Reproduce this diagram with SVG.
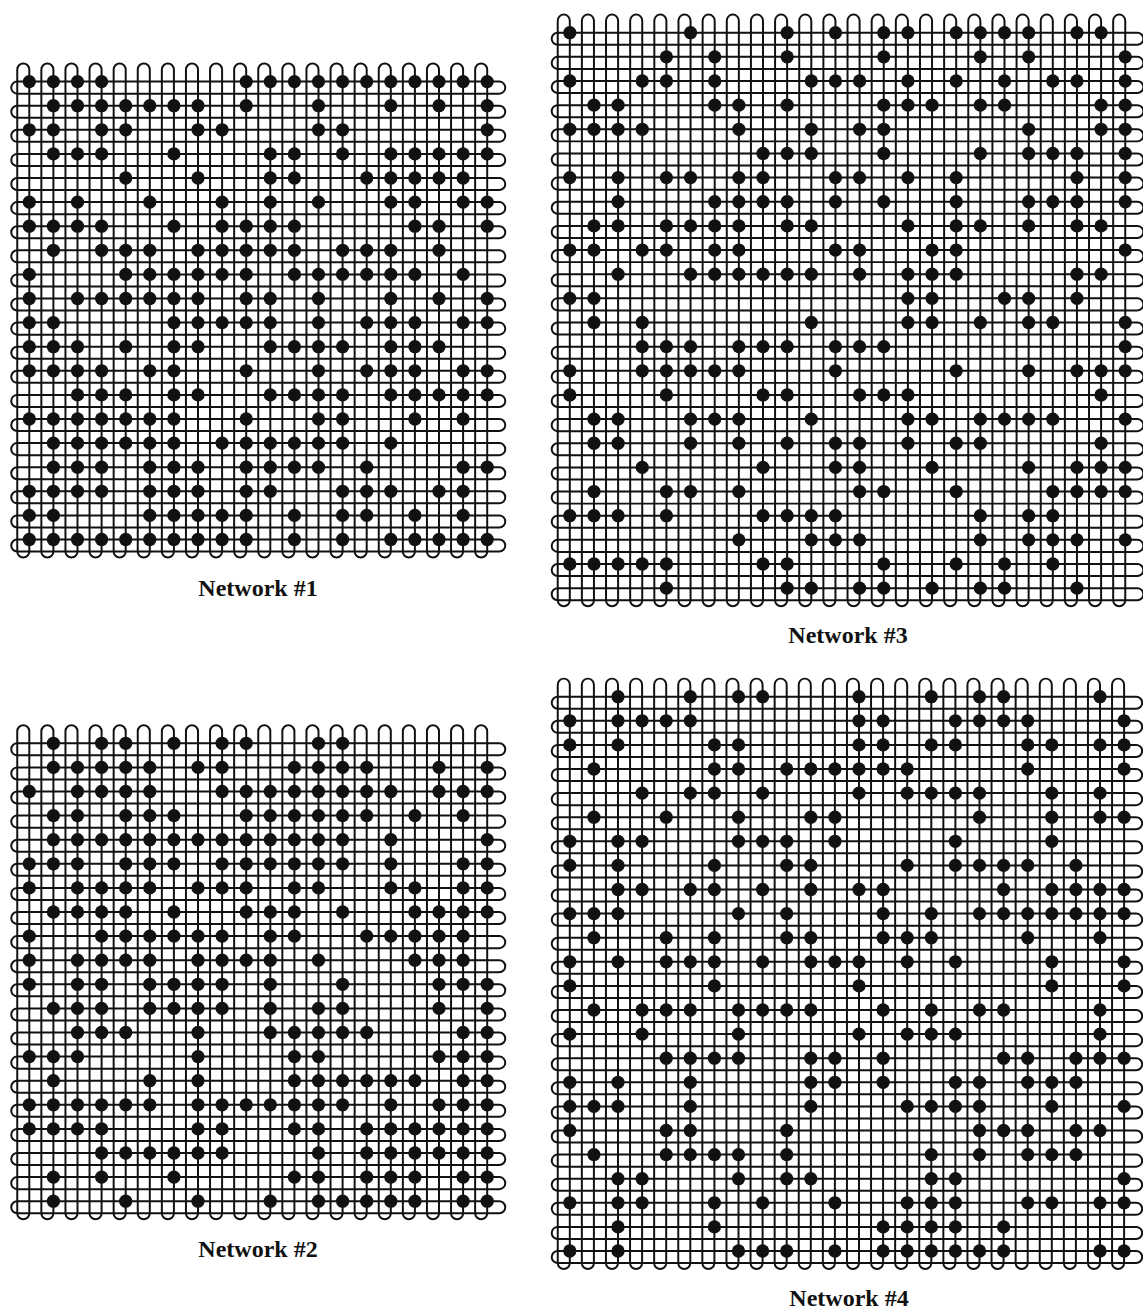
<svg xmlns="http://www.w3.org/2000/svg" width="1143" height="1311" viewBox="0 0 1143 1311">
<style>
.lbl{font-family:"Liberation Serif","Times New Roman",serif;font-weight:bold;font-size:24px;fill:#111;text-anchor:middle}
</style>
<defs>
<circle id="d" r="0.275" fill="#111"/>
<g id="v20" fill="none" stroke="#111" stroke-width="0.082"><rect x="-0.5" y="-0.75" width="0.5" height="20.5" rx="0.25"/><rect x="0.5" y="-0.75" width="0.5" height="20.5" rx="0.25"/><rect x="1.5" y="-0.75" width="0.5" height="20.5" rx="0.25"/><rect x="2.5" y="-0.75" width="0.5" height="20.5" rx="0.25"/><rect x="3.5" y="-0.75" width="0.5" height="20.5" rx="0.25"/><rect x="4.5" y="-0.75" width="0.5" height="20.5" rx="0.25"/><rect x="5.5" y="-0.75" width="0.5" height="20.5" rx="0.25"/><rect x="6.5" y="-0.75" width="0.5" height="20.5" rx="0.25"/><rect x="7.5" y="-0.75" width="0.5" height="20.5" rx="0.25"/><rect x="8.5" y="-0.75" width="0.5" height="20.5" rx="0.25"/><rect x="9.5" y="-0.75" width="0.5" height="20.5" rx="0.25"/><rect x="10.5" y="-0.75" width="0.5" height="20.5" rx="0.25"/><rect x="11.5" y="-0.75" width="0.5" height="20.5" rx="0.25"/><rect x="12.5" y="-0.75" width="0.5" height="20.5" rx="0.25"/><rect x="13.5" y="-0.75" width="0.5" height="20.5" rx="0.25"/><rect x="14.5" y="-0.75" width="0.5" height="20.5" rx="0.25"/><rect x="15.5" y="-0.75" width="0.5" height="20.5" rx="0.25"/><rect x="16.5" y="-0.75" width="0.5" height="20.5" rx="0.25"/><rect x="17.5" y="-0.75" width="0.5" height="20.5" rx="0.25"/><rect x="18.5" y="-0.75" width="0.5" height="20.5" rx="0.25"/>
<rect x="-0.75" y="0" width="20.5" height="0.5" rx="0.25"/><rect x="-0.75" y="1" width="20.5" height="0.5" rx="0.25"/><rect x="-0.75" y="2" width="20.5" height="0.5" rx="0.25"/><rect x="-0.75" y="3" width="20.5" height="0.5" rx="0.25"/><rect x="-0.75" y="4" width="20.5" height="0.5" rx="0.25"/><rect x="-0.75" y="5" width="20.5" height="0.5" rx="0.25"/><rect x="-0.75" y="6" width="20.5" height="0.5" rx="0.25"/><rect x="-0.75" y="7" width="20.5" height="0.5" rx="0.25"/><rect x="-0.75" y="8" width="20.5" height="0.5" rx="0.25"/><rect x="-0.75" y="9" width="20.5" height="0.5" rx="0.25"/><rect x="-0.75" y="10" width="20.5" height="0.5" rx="0.25"/><rect x="-0.75" y="11" width="20.5" height="0.5" rx="0.25"/><rect x="-0.75" y="12" width="20.5" height="0.5" rx="0.25"/><rect x="-0.75" y="13" width="20.5" height="0.5" rx="0.25"/><rect x="-0.75" y="14" width="20.5" height="0.5" rx="0.25"/><rect x="-0.75" y="15" width="20.5" height="0.5" rx="0.25"/><rect x="-0.75" y="16" width="20.5" height="0.5" rx="0.25"/><rect x="-0.75" y="17" width="20.5" height="0.5" rx="0.25"/><rect x="-0.75" y="18" width="20.5" height="0.5" rx="0.25"/><rect x="-0.75" y="19" width="20.5" height="0.5" rx="0.25"/></g>
<g id="v24" fill="none" stroke="#111" stroke-width="0.082"><rect x="-0.5" y="-0.75" width="0.5" height="24.5" rx="0.25"/><rect x="0.5" y="-0.75" width="0.5" height="24.5" rx="0.25"/><rect x="1.5" y="-0.75" width="0.5" height="24.5" rx="0.25"/><rect x="2.5" y="-0.75" width="0.5" height="24.5" rx="0.25"/><rect x="3.5" y="-0.75" width="0.5" height="24.5" rx="0.25"/><rect x="4.5" y="-0.75" width="0.5" height="24.5" rx="0.25"/><rect x="5.5" y="-0.75" width="0.5" height="24.5" rx="0.25"/><rect x="6.5" y="-0.75" width="0.5" height="24.5" rx="0.25"/><rect x="7.5" y="-0.75" width="0.5" height="24.5" rx="0.25"/><rect x="8.5" y="-0.75" width="0.5" height="24.5" rx="0.25"/><rect x="9.5" y="-0.75" width="0.5" height="24.5" rx="0.25"/><rect x="10.5" y="-0.75" width="0.5" height="24.5" rx="0.25"/><rect x="11.5" y="-0.75" width="0.5" height="24.5" rx="0.25"/><rect x="12.5" y="-0.75" width="0.5" height="24.5" rx="0.25"/><rect x="13.5" y="-0.75" width="0.5" height="24.5" rx="0.25"/><rect x="14.5" y="-0.75" width="0.5" height="24.5" rx="0.25"/><rect x="15.5" y="-0.75" width="0.5" height="24.5" rx="0.25"/><rect x="16.5" y="-0.75" width="0.5" height="24.5" rx="0.25"/><rect x="17.5" y="-0.75" width="0.5" height="24.5" rx="0.25"/><rect x="18.5" y="-0.75" width="0.5" height="24.5" rx="0.25"/><rect x="19.5" y="-0.75" width="0.5" height="24.5" rx="0.25"/><rect x="20.5" y="-0.75" width="0.5" height="24.5" rx="0.25"/><rect x="21.5" y="-0.75" width="0.5" height="24.5" rx="0.25"/><rect x="22.5" y="-0.75" width="0.5" height="24.5" rx="0.25"/>
<rect x="-0.75" y="0" width="24.5" height="0.5" rx="0.25"/><rect x="-0.75" y="1" width="24.5" height="0.5" rx="0.25"/><rect x="-0.75" y="2" width="24.5" height="0.5" rx="0.25"/><rect x="-0.75" y="3" width="24.5" height="0.5" rx="0.25"/><rect x="-0.75" y="4" width="24.5" height="0.5" rx="0.25"/><rect x="-0.75" y="5" width="24.5" height="0.5" rx="0.25"/><rect x="-0.75" y="6" width="24.5" height="0.5" rx="0.25"/><rect x="-0.75" y="7" width="24.5" height="0.5" rx="0.25"/><rect x="-0.75" y="8" width="24.5" height="0.5" rx="0.25"/><rect x="-0.75" y="9" width="24.5" height="0.5" rx="0.25"/><rect x="-0.75" y="10" width="24.5" height="0.5" rx="0.25"/><rect x="-0.75" y="11" width="24.5" height="0.5" rx="0.25"/><rect x="-0.75" y="12" width="24.5" height="0.5" rx="0.25"/><rect x="-0.75" y="13" width="24.5" height="0.5" rx="0.25"/><rect x="-0.75" y="14" width="24.5" height="0.5" rx="0.25"/><rect x="-0.75" y="15" width="24.5" height="0.5" rx="0.25"/><rect x="-0.75" y="16" width="24.5" height="0.5" rx="0.25"/><rect x="-0.75" y="17" width="24.5" height="0.5" rx="0.25"/><rect x="-0.75" y="18" width="24.5" height="0.5" rx="0.25"/><rect x="-0.75" y="19" width="24.5" height="0.5" rx="0.25"/><rect x="-0.75" y="20" width="24.5" height="0.5" rx="0.25"/><rect x="-0.75" y="21" width="24.5" height="0.5" rx="0.25"/><rect x="-0.75" y="22" width="24.5" height="0.5" rx="0.25"/><rect x="-0.75" y="23" width="24.5" height="0.5" rx="0.25"/></g>
</defs>

<g id="network1">
<g transform="translate(29.3 81.6) scale(24.1)">
<g id="n1-fibers"><use href="#v20"/></g>
<g id="n1-nodes">
<use href="#d" x="0" y="0"/><use href="#d" x="1" y="0"/><use href="#d" x="2" y="0"/><use href="#d" x="3" y="0"/><use href="#d" x="9" y="0"/><use href="#d" x="10" y="0"/><use href="#d" x="11" y="0"/><use href="#d" x="12" y="0"/><use href="#d" x="13" y="0"/><use href="#d" x="14" y="0"/><use href="#d" x="15" y="0"/><use href="#d" x="16" y="0"/><use href="#d" x="17" y="0"/><use href="#d" x="18" y="0"/><use href="#d" x="19" y="0"/>
<use href="#d" x="1" y="1"/><use href="#d" x="2" y="1"/><use href="#d" x="3" y="1"/><use href="#d" x="4" y="1"/><use href="#d" x="5" y="1"/><use href="#d" x="6" y="1"/><use href="#d" x="7" y="1"/><use href="#d" x="9" y="1"/><use href="#d" x="12" y="1"/><use href="#d" x="15" y="1"/><use href="#d" x="17" y="1"/><use href="#d" x="19" y="1"/>
<use href="#d" x="0" y="2"/><use href="#d" x="1" y="2"/><use href="#d" x="3" y="2"/><use href="#d" x="4" y="2"/><use href="#d" x="7" y="2"/><use href="#d" x="8" y="2"/><use href="#d" x="12" y="2"/><use href="#d" x="13" y="2"/><use href="#d" x="19" y="2"/>
<use href="#d" x="1" y="3"/><use href="#d" x="2" y="3"/><use href="#d" x="3" y="3"/><use href="#d" x="6" y="3"/><use href="#d" x="10" y="3"/><use href="#d" x="11" y="3"/><use href="#d" x="13" y="3"/><use href="#d" x="15" y="3"/><use href="#d" x="16" y="3"/><use href="#d" x="17" y="3"/><use href="#d" x="18" y="3"/><use href="#d" x="19" y="3"/>
<use href="#d" x="4" y="4"/><use href="#d" x="7" y="4"/><use href="#d" x="10" y="4"/><use href="#d" x="11" y="4"/><use href="#d" x="14" y="4"/><use href="#d" x="15" y="4"/><use href="#d" x="16" y="4"/><use href="#d" x="17" y="4"/><use href="#d" x="18" y="4"/>
<use href="#d" x="0" y="5"/><use href="#d" x="2" y="5"/><use href="#d" x="5" y="5"/><use href="#d" x="8" y="5"/><use href="#d" x="10" y="5"/><use href="#d" x="12" y="5"/><use href="#d" x="15" y="5"/><use href="#d" x="16" y="5"/><use href="#d" x="18" y="5"/><use href="#d" x="19" y="5"/>
<use href="#d" x="0" y="6"/><use href="#d" x="1" y="6"/><use href="#d" x="2" y="6"/><use href="#d" x="3" y="6"/><use href="#d" x="6" y="6"/><use href="#d" x="8" y="6"/><use href="#d" x="9" y="6"/><use href="#d" x="10" y="6"/><use href="#d" x="11" y="6"/><use href="#d" x="16" y="6"/><use href="#d" x="17" y="6"/><use href="#d" x="19" y="6"/>
<use href="#d" x="1" y="7"/><use href="#d" x="3" y="7"/><use href="#d" x="4" y="7"/><use href="#d" x="5" y="7"/><use href="#d" x="7" y="7"/><use href="#d" x="8" y="7"/><use href="#d" x="9" y="7"/><use href="#d" x="10" y="7"/><use href="#d" x="11" y="7"/><use href="#d" x="13" y="7"/><use href="#d" x="14" y="7"/><use href="#d" x="15" y="7"/><use href="#d" x="17" y="7"/>
<use href="#d" x="0" y="8"/><use href="#d" x="4" y="8"/><use href="#d" x="5" y="8"/><use href="#d" x="6" y="8"/><use href="#d" x="7" y="8"/><use href="#d" x="8" y="8"/><use href="#d" x="9" y="8"/><use href="#d" x="11" y="8"/><use href="#d" x="12" y="8"/><use href="#d" x="13" y="8"/><use href="#d" x="14" y="8"/><use href="#d" x="15" y="8"/><use href="#d" x="16" y="8"/><use href="#d" x="18" y="8"/>
<use href="#d" x="0" y="9"/><use href="#d" x="2" y="9"/><use href="#d" x="3" y="9"/><use href="#d" x="4" y="9"/><use href="#d" x="5" y="9"/><use href="#d" x="6" y="9"/><use href="#d" x="7" y="9"/><use href="#d" x="9" y="9"/><use href="#d" x="10" y="9"/><use href="#d" x="12" y="9"/><use href="#d" x="15" y="9"/><use href="#d" x="17" y="9"/><use href="#d" x="19" y="9"/>
<use href="#d" x="0" y="10"/><use href="#d" x="1" y="10"/><use href="#d" x="6" y="10"/><use href="#d" x="7" y="10"/><use href="#d" x="8" y="10"/><use href="#d" x="9" y="10"/><use href="#d" x="10" y="10"/><use href="#d" x="12" y="10"/><use href="#d" x="14" y="10"/><use href="#d" x="15" y="10"/><use href="#d" x="16" y="10"/><use href="#d" x="18" y="10"/><use href="#d" x="19" y="10"/>
<use href="#d" x="0" y="11"/><use href="#d" x="1" y="11"/><use href="#d" x="2" y="11"/><use href="#d" x="4" y="11"/><use href="#d" x="6" y="11"/><use href="#d" x="7" y="11"/><use href="#d" x="10" y="11"/><use href="#d" x="11" y="11"/><use href="#d" x="12" y="11"/><use href="#d" x="13" y="11"/><use href="#d" x="15" y="11"/><use href="#d" x="16" y="11"/><use href="#d" x="17" y="11"/>
<use href="#d" x="0" y="12"/><use href="#d" x="1" y="12"/><use href="#d" x="2" y="12"/><use href="#d" x="3" y="12"/><use href="#d" x="5" y="12"/><use href="#d" x="6" y="12"/><use href="#d" x="9" y="12"/><use href="#d" x="12" y="12"/><use href="#d" x="14" y="12"/><use href="#d" x="15" y="12"/><use href="#d" x="16" y="12"/><use href="#d" x="18" y="12"/><use href="#d" x="19" y="12"/>
<use href="#d" x="2" y="13"/><use href="#d" x="3" y="13"/><use href="#d" x="4" y="13"/><use href="#d" x="6" y="13"/><use href="#d" x="7" y="13"/><use href="#d" x="10" y="13"/><use href="#d" x="11" y="13"/><use href="#d" x="12" y="13"/><use href="#d" x="13" y="13"/><use href="#d" x="15" y="13"/><use href="#d" x="16" y="13"/><use href="#d" x="17" y="13"/><use href="#d" x="18" y="13"/><use href="#d" x="19" y="13"/>
<use href="#d" x="0" y="14"/><use href="#d" x="1" y="14"/><use href="#d" x="2" y="14"/><use href="#d" x="3" y="14"/><use href="#d" x="4" y="14"/><use href="#d" x="5" y="14"/><use href="#d" x="6" y="14"/><use href="#d" x="9" y="14"/><use href="#d" x="12" y="14"/><use href="#d" x="13" y="14"/><use href="#d" x="16" y="14"/><use href="#d" x="18" y="14"/>
<use href="#d" x="1" y="15"/><use href="#d" x="2" y="15"/><use href="#d" x="3" y="15"/><use href="#d" x="4" y="15"/><use href="#d" x="5" y="15"/><use href="#d" x="6" y="15"/><use href="#d" x="8" y="15"/><use href="#d" x="9" y="15"/><use href="#d" x="10" y="15"/><use href="#d" x="11" y="15"/><use href="#d" x="12" y="15"/><use href="#d" x="13" y="15"/><use href="#d" x="15" y="15"/>
<use href="#d" x="1" y="16"/><use href="#d" x="2" y="16"/><use href="#d" x="3" y="16"/><use href="#d" x="5" y="16"/><use href="#d" x="6" y="16"/><use href="#d" x="7" y="16"/><use href="#d" x="9" y="16"/><use href="#d" x="10" y="16"/><use href="#d" x="11" y="16"/><use href="#d" x="12" y="16"/><use href="#d" x="14" y="16"/><use href="#d" x="18" y="16"/><use href="#d" x="19" y="16"/>
<use href="#d" x="0" y="17"/><use href="#d" x="1" y="17"/><use href="#d" x="2" y="17"/><use href="#d" x="3" y="17"/><use href="#d" x="5" y="17"/><use href="#d" x="6" y="17"/><use href="#d" x="7" y="17"/><use href="#d" x="9" y="17"/><use href="#d" x="10" y="17"/><use href="#d" x="13" y="17"/><use href="#d" x="14" y="17"/><use href="#d" x="15" y="17"/><use href="#d" x="17" y="17"/><use href="#d" x="18" y="17"/>
<use href="#d" x="0" y="18"/><use href="#d" x="1" y="18"/><use href="#d" x="5" y="18"/><use href="#d" x="6" y="18"/><use href="#d" x="7" y="18"/><use href="#d" x="8" y="18"/><use href="#d" x="9" y="18"/><use href="#d" x="11" y="18"/><use href="#d" x="13" y="18"/><use href="#d" x="14" y="18"/><use href="#d" x="16" y="18"/><use href="#d" x="18" y="18"/>
<use href="#d" x="0" y="19"/><use href="#d" x="1" y="19"/><use href="#d" x="2" y="19"/><use href="#d" x="3" y="19"/><use href="#d" x="4" y="19"/><use href="#d" x="5" y="19"/><use href="#d" x="6" y="19"/><use href="#d" x="7" y="19"/><use href="#d" x="8" y="19"/><use href="#d" x="9" y="19"/><use href="#d" x="11" y="19"/><use href="#d" x="13" y="19"/><use href="#d" x="15" y="19"/><use href="#d" x="16" y="19"/><use href="#d" x="17" y="19"/><use href="#d" x="18" y="19"/><use href="#d" x="19" y="19"/>
</g>
</g>
<text class="lbl" x="258" y="596">Network #1</text>
</g>

<g id="network2">
<g transform="translate(29.3 743.3) scale(24.1)">
<g id="n2-fibers"><use href="#v20"/></g>
<g id="n2-nodes">
<use href="#d" x="1" y="0"/><use href="#d" x="3" y="0"/><use href="#d" x="4" y="0"/><use href="#d" x="6" y="0"/><use href="#d" x="8" y="0"/><use href="#d" x="9" y="0"/><use href="#d" x="12" y="0"/><use href="#d" x="13" y="0"/>
<use href="#d" x="1" y="1"/><use href="#d" x="2" y="1"/><use href="#d" x="3" y="1"/><use href="#d" x="4" y="1"/><use href="#d" x="5" y="1"/><use href="#d" x="7" y="1"/><use href="#d" x="8" y="1"/><use href="#d" x="11" y="1"/><use href="#d" x="12" y="1"/><use href="#d" x="13" y="1"/><use href="#d" x="14" y="1"/><use href="#d" x="17" y="1"/><use href="#d" x="19" y="1"/>
<use href="#d" x="0" y="2"/><use href="#d" x="2" y="2"/><use href="#d" x="3" y="2"/><use href="#d" x="4" y="2"/><use href="#d" x="5" y="2"/><use href="#d" x="8" y="2"/><use href="#d" x="9" y="2"/><use href="#d" x="10" y="2"/><use href="#d" x="11" y="2"/><use href="#d" x="12" y="2"/><use href="#d" x="13" y="2"/><use href="#d" x="14" y="2"/><use href="#d" x="15" y="2"/><use href="#d" x="17" y="2"/><use href="#d" x="18" y="2"/><use href="#d" x="19" y="2"/>
<use href="#d" x="1" y="3"/><use href="#d" x="2" y="3"/><use href="#d" x="4" y="3"/><use href="#d" x="5" y="3"/><use href="#d" x="6" y="3"/><use href="#d" x="9" y="3"/><use href="#d" x="10" y="3"/><use href="#d" x="11" y="3"/><use href="#d" x="12" y="3"/><use href="#d" x="13" y="3"/><use href="#d" x="14" y="3"/><use href="#d" x="16" y="3"/><use href="#d" x="18" y="3"/>
<use href="#d" x="1" y="4"/><use href="#d" x="2" y="4"/><use href="#d" x="3" y="4"/><use href="#d" x="4" y="4"/><use href="#d" x="5" y="4"/><use href="#d" x="6" y="4"/><use href="#d" x="7" y="4"/><use href="#d" x="8" y="4"/><use href="#d" x="9" y="4"/><use href="#d" x="10" y="4"/><use href="#d" x="11" y="4"/><use href="#d" x="12" y="4"/><use href="#d" x="13" y="4"/><use href="#d" x="15" y="4"/><use href="#d" x="19" y="4"/>
<use href="#d" x="0" y="5"/><use href="#d" x="1" y="5"/><use href="#d" x="2" y="5"/><use href="#d" x="4" y="5"/><use href="#d" x="5" y="5"/><use href="#d" x="6" y="5"/><use href="#d" x="8" y="5"/><use href="#d" x="9" y="5"/><use href="#d" x="10" y="5"/><use href="#d" x="11" y="5"/><use href="#d" x="12" y="5"/><use href="#d" x="13" y="5"/><use href="#d" x="15" y="5"/><use href="#d" x="18" y="5"/><use href="#d" x="19" y="5"/>
<use href="#d" x="0" y="6"/><use href="#d" x="2" y="6"/><use href="#d" x="3" y="6"/><use href="#d" x="4" y="6"/><use href="#d" x="5" y="6"/><use href="#d" x="7" y="6"/><use href="#d" x="8" y="6"/><use href="#d" x="9" y="6"/><use href="#d" x="11" y="6"/><use href="#d" x="12" y="6"/><use href="#d" x="15" y="6"/><use href="#d" x="16" y="6"/><use href="#d" x="18" y="6"/><use href="#d" x="19" y="6"/>
<use href="#d" x="1" y="7"/><use href="#d" x="2" y="7"/><use href="#d" x="3" y="7"/><use href="#d" x="4" y="7"/><use href="#d" x="6" y="7"/><use href="#d" x="9" y="7"/><use href="#d" x="10" y="7"/><use href="#d" x="11" y="7"/><use href="#d" x="13" y="7"/><use href="#d" x="16" y="7"/><use href="#d" x="17" y="7"/><use href="#d" x="18" y="7"/><use href="#d" x="19" y="7"/>
<use href="#d" x="0" y="8"/><use href="#d" x="3" y="8"/><use href="#d" x="4" y="8"/><use href="#d" x="5" y="8"/><use href="#d" x="6" y="8"/><use href="#d" x="7" y="8"/><use href="#d" x="8" y="8"/><use href="#d" x="10" y="8"/><use href="#d" x="11" y="8"/><use href="#d" x="14" y="8"/><use href="#d" x="15" y="8"/><use href="#d" x="16" y="8"/><use href="#d" x="17" y="8"/><use href="#d" x="18" y="8"/>
<use href="#d" x="0" y="9"/><use href="#d" x="2" y="9"/><use href="#d" x="3" y="9"/><use href="#d" x="4" y="9"/><use href="#d" x="5" y="9"/><use href="#d" x="7" y="9"/><use href="#d" x="8" y="9"/><use href="#d" x="9" y="9"/><use href="#d" x="10" y="9"/><use href="#d" x="12" y="9"/><use href="#d" x="16" y="9"/><use href="#d" x="17" y="9"/><use href="#d" x="18" y="9"/>
<use href="#d" x="0" y="10"/><use href="#d" x="2" y="10"/><use href="#d" x="3" y="10"/><use href="#d" x="5" y="10"/><use href="#d" x="6" y="10"/><use href="#d" x="7" y="10"/><use href="#d" x="8" y="10"/><use href="#d" x="10" y="10"/><use href="#d" x="13" y="10"/><use href="#d" x="17" y="10"/><use href="#d" x="18" y="10"/><use href="#d" x="19" y="10"/>
<use href="#d" x="1" y="11"/><use href="#d" x="2" y="11"/><use href="#d" x="3" y="11"/><use href="#d" x="5" y="11"/><use href="#d" x="6" y="11"/><use href="#d" x="7" y="11"/><use href="#d" x="8" y="11"/><use href="#d" x="10" y="11"/><use href="#d" x="12" y="11"/><use href="#d" x="13" y="11"/><use href="#d" x="17" y="11"/><use href="#d" x="19" y="11"/>
<use href="#d" x="2" y="12"/><use href="#d" x="3" y="12"/><use href="#d" x="4" y="12"/><use href="#d" x="7" y="12"/><use href="#d" x="10" y="12"/><use href="#d" x="11" y="12"/><use href="#d" x="12" y="12"/><use href="#d" x="13" y="12"/><use href="#d" x="14" y="12"/><use href="#d" x="18" y="12"/><use href="#d" x="19" y="12"/>
<use href="#d" x="0" y="13"/><use href="#d" x="1" y="13"/><use href="#d" x="2" y="13"/><use href="#d" x="7" y="13"/><use href="#d" x="11" y="13"/><use href="#d" x="12" y="13"/><use href="#d" x="17" y="13"/><use href="#d" x="18" y="13"/><use href="#d" x="19" y="13"/>
<use href="#d" x="1" y="14"/><use href="#d" x="5" y="14"/><use href="#d" x="7" y="14"/><use href="#d" x="11" y="14"/><use href="#d" x="12" y="14"/><use href="#d" x="13" y="14"/><use href="#d" x="14" y="14"/><use href="#d" x="15" y="14"/><use href="#d" x="16" y="14"/><use href="#d" x="18" y="14"/><use href="#d" x="19" y="14"/>
<use href="#d" x="0" y="15"/><use href="#d" x="1" y="15"/><use href="#d" x="2" y="15"/><use href="#d" x="3" y="15"/><use href="#d" x="4" y="15"/><use href="#d" x="5" y="15"/><use href="#d" x="7" y="15"/><use href="#d" x="8" y="15"/><use href="#d" x="9" y="15"/><use href="#d" x="10" y="15"/><use href="#d" x="11" y="15"/><use href="#d" x="12" y="15"/><use href="#d" x="13" y="15"/><use href="#d" x="15" y="15"/><use href="#d" x="17" y="15"/><use href="#d" x="18" y="15"/><use href="#d" x="19" y="15"/>
<use href="#d" x="0" y="16"/><use href="#d" x="1" y="16"/><use href="#d" x="2" y="16"/><use href="#d" x="3" y="16"/><use href="#d" x="7" y="16"/><use href="#d" x="8" y="16"/><use href="#d" x="11" y="16"/><use href="#d" x="12" y="16"/><use href="#d" x="14" y="16"/><use href="#d" x="15" y="16"/><use href="#d" x="16" y="16"/><use href="#d" x="17" y="16"/><use href="#d" x="18" y="16"/><use href="#d" x="19" y="16"/>
<use href="#d" x="3" y="17"/><use href="#d" x="4" y="17"/><use href="#d" x="5" y="17"/><use href="#d" x="6" y="17"/><use href="#d" x="7" y="17"/><use href="#d" x="8" y="17"/><use href="#d" x="12" y="17"/><use href="#d" x="14" y="17"/><use href="#d" x="15" y="17"/><use href="#d" x="16" y="17"/><use href="#d" x="17" y="17"/><use href="#d" x="18" y="17"/><use href="#d" x="19" y="17"/>
<use href="#d" x="1" y="18"/><use href="#d" x="3" y="18"/><use href="#d" x="6" y="18"/><use href="#d" x="11" y="18"/><use href="#d" x="12" y="18"/><use href="#d" x="14" y="18"/><use href="#d" x="15" y="18"/><use href="#d" x="16" y="18"/><use href="#d" x="18" y="18"/><use href="#d" x="19" y="18"/>
<use href="#d" x="1" y="19"/><use href="#d" x="4" y="19"/><use href="#d" x="7" y="19"/><use href="#d" x="10" y="19"/><use href="#d" x="12" y="19"/><use href="#d" x="13" y="19"/><use href="#d" x="14" y="19"/><use href="#d" x="15" y="19"/><use href="#d" x="16" y="19"/><use href="#d" x="18" y="19"/><use href="#d" x="19" y="19"/>
</g>
</g>
<text class="lbl" x="258" y="1257">Network #2</text>
</g>

<g id="network3">
<g transform="translate(569.8 32.7) scale(24.15)">
<g id="n3-fibers"><use href="#v24"/></g>
<g id="n3-nodes">
<use href="#d" x="0" y="0"/><use href="#d" x="5" y="0"/><use href="#d" x="9" y="0"/><use href="#d" x="11" y="0"/><use href="#d" x="13" y="0"/><use href="#d" x="14" y="0"/><use href="#d" x="16" y="0"/><use href="#d" x="17" y="0"/><use href="#d" x="18" y="0"/><use href="#d" x="19" y="0"/><use href="#d" x="21" y="0"/><use href="#d" x="22" y="0"/>
<use href="#d" x="4" y="1"/><use href="#d" x="6" y="1"/><use href="#d" x="9" y="1"/><use href="#d" x="13" y="1"/><use href="#d" x="17" y="1"/><use href="#d" x="19" y="1"/><use href="#d" x="23" y="1"/>
<use href="#d" x="0" y="2"/><use href="#d" x="3" y="2"/><use href="#d" x="4" y="2"/><use href="#d" x="6" y="2"/><use href="#d" x="10" y="2"/><use href="#d" x="11" y="2"/><use href="#d" x="12" y="2"/><use href="#d" x="14" y="2"/><use href="#d" x="16" y="2"/><use href="#d" x="18" y="2"/><use href="#d" x="20" y="2"/><use href="#d" x="21" y="2"/><use href="#d" x="23" y="2"/>
<use href="#d" x="1" y="3"/><use href="#d" x="2" y="3"/><use href="#d" x="6" y="3"/><use href="#d" x="7" y="3"/><use href="#d" x="9" y="3"/><use href="#d" x="13" y="3"/><use href="#d" x="14" y="3"/><use href="#d" x="15" y="3"/><use href="#d" x="17" y="3"/><use href="#d" x="18" y="3"/><use href="#d" x="22" y="3"/><use href="#d" x="23" y="3"/>
<use href="#d" x="0" y="4"/><use href="#d" x="1" y="4"/><use href="#d" x="2" y="4"/><use href="#d" x="3" y="4"/><use href="#d" x="7" y="4"/><use href="#d" x="10" y="4"/><use href="#d" x="12" y="4"/><use href="#d" x="13" y="4"/><use href="#d" x="19" y="4"/><use href="#d" x="22" y="4"/><use href="#d" x="23" y="4"/>
<use href="#d" x="8" y="5"/><use href="#d" x="9" y="5"/><use href="#d" x="10" y="5"/><use href="#d" x="13" y="5"/><use href="#d" x="17" y="5"/><use href="#d" x="19" y="5"/><use href="#d" x="20" y="5"/><use href="#d" x="21" y="5"/><use href="#d" x="23" y="5"/>
<use href="#d" x="0" y="6"/><use href="#d" x="2" y="6"/><use href="#d" x="4" y="6"/><use href="#d" x="5" y="6"/><use href="#d" x="7" y="6"/><use href="#d" x="8" y="6"/><use href="#d" x="11" y="6"/><use href="#d" x="12" y="6"/><use href="#d" x="14" y="6"/><use href="#d" x="16" y="6"/><use href="#d" x="21" y="6"/><use href="#d" x="23" y="6"/>
<use href="#d" x="2" y="7"/><use href="#d" x="6" y="7"/><use href="#d" x="7" y="7"/><use href="#d" x="8" y="7"/><use href="#d" x="9" y="7"/><use href="#d" x="11" y="7"/><use href="#d" x="13" y="7"/><use href="#d" x="16" y="7"/><use href="#d" x="19" y="7"/><use href="#d" x="20" y="7"/><use href="#d" x="21" y="7"/><use href="#d" x="23" y="7"/>
<use href="#d" x="1" y="8"/><use href="#d" x="2" y="8"/><use href="#d" x="4" y="8"/><use href="#d" x="5" y="8"/><use href="#d" x="6" y="8"/><use href="#d" x="7" y="8"/><use href="#d" x="9" y="8"/><use href="#d" x="10" y="8"/><use href="#d" x="14" y="8"/><use href="#d" x="16" y="8"/><use href="#d" x="17" y="8"/><use href="#d" x="19" y="8"/><use href="#d" x="21" y="8"/><use href="#d" x="22" y="8"/>
<use href="#d" x="0" y="9"/><use href="#d" x="1" y="9"/><use href="#d" x="3" y="9"/><use href="#d" x="4" y="9"/><use href="#d" x="6" y="9"/><use href="#d" x="7" y="9"/><use href="#d" x="11" y="9"/><use href="#d" x="12" y="9"/><use href="#d" x="15" y="9"/><use href="#d" x="16" y="9"/><use href="#d" x="23" y="9"/>
<use href="#d" x="2" y="10"/><use href="#d" x="5" y="10"/><use href="#d" x="6" y="10"/><use href="#d" x="7" y="10"/><use href="#d" x="8" y="10"/><use href="#d" x="9" y="10"/><use href="#d" x="10" y="10"/><use href="#d" x="12" y="10"/><use href="#d" x="14" y="10"/><use href="#d" x="15" y="10"/><use href="#d" x="16" y="10"/><use href="#d" x="21" y="10"/><use href="#d" x="22" y="10"/>
<use href="#d" x="0" y="11"/><use href="#d" x="1" y="11"/><use href="#d" x="14" y="11"/><use href="#d" x="15" y="11"/><use href="#d" x="18" y="11"/><use href="#d" x="19" y="11"/><use href="#d" x="21" y="11"/>
<use href="#d" x="1" y="12"/><use href="#d" x="3" y="12"/><use href="#d" x="10" y="12"/><use href="#d" x="14" y="12"/><use href="#d" x="15" y="12"/><use href="#d" x="17" y="12"/><use href="#d" x="19" y="12"/><use href="#d" x="20" y="12"/><use href="#d" x="23" y="12"/>
<use href="#d" x="3" y="13"/><use href="#d" x="4" y="13"/><use href="#d" x="5" y="13"/><use href="#d" x="7" y="13"/><use href="#d" x="8" y="13"/><use href="#d" x="9" y="13"/><use href="#d" x="11" y="13"/><use href="#d" x="12" y="13"/><use href="#d" x="13" y="13"/><use href="#d" x="23" y="13"/>
<use href="#d" x="0" y="14"/><use href="#d" x="3" y="14"/><use href="#d" x="4" y="14"/><use href="#d" x="5" y="14"/><use href="#d" x="6" y="14"/><use href="#d" x="7" y="14"/><use href="#d" x="11" y="14"/><use href="#d" x="16" y="14"/><use href="#d" x="19" y="14"/><use href="#d" x="21" y="14"/><use href="#d" x="22" y="14"/><use href="#d" x="23" y="14"/>
<use href="#d" x="0" y="15"/><use href="#d" x="4" y="15"/><use href="#d" x="8" y="15"/><use href="#d" x="9" y="15"/><use href="#d" x="12" y="15"/><use href="#d" x="13" y="15"/><use href="#d" x="14" y="15"/><use href="#d" x="22" y="15"/>
<use href="#d" x="1" y="16"/><use href="#d" x="2" y="16"/><use href="#d" x="5" y="16"/><use href="#d" x="6" y="16"/><use href="#d" x="7" y="16"/><use href="#d" x="10" y="16"/><use href="#d" x="14" y="16"/><use href="#d" x="15" y="16"/><use href="#d" x="17" y="16"/><use href="#d" x="18" y="16"/><use href="#d" x="19" y="16"/><use href="#d" x="20" y="16"/><use href="#d" x="23" y="16"/>
<use href="#d" x="1" y="17"/><use href="#d" x="2" y="17"/><use href="#d" x="5" y="17"/><use href="#d" x="7" y="17"/><use href="#d" x="9" y="17"/><use href="#d" x="11" y="17"/><use href="#d" x="12" y="17"/><use href="#d" x="14" y="17"/><use href="#d" x="16" y="17"/><use href="#d" x="17" y="17"/><use href="#d" x="22" y="17"/>
<use href="#d" x="3" y="18"/><use href="#d" x="8" y="18"/><use href="#d" x="11" y="18"/><use href="#d" x="12" y="18"/><use href="#d" x="15" y="18"/><use href="#d" x="19" y="18"/><use href="#d" x="21" y="18"/><use href="#d" x="22" y="18"/><use href="#d" x="23" y="18"/>
<use href="#d" x="1" y="19"/><use href="#d" x="4" y="19"/><use href="#d" x="5" y="19"/><use href="#d" x="7" y="19"/><use href="#d" x="12" y="19"/><use href="#d" x="13" y="19"/><use href="#d" x="16" y="19"/><use href="#d" x="20" y="19"/><use href="#d" x="21" y="19"/><use href="#d" x="22" y="19"/><use href="#d" x="23" y="19"/>
<use href="#d" x="0" y="20"/><use href="#d" x="1" y="20"/><use href="#d" x="2" y="20"/><use href="#d" x="4" y="20"/><use href="#d" x="8" y="20"/><use href="#d" x="9" y="20"/><use href="#d" x="10" y="20"/><use href="#d" x="11" y="20"/><use href="#d" x="17" y="20"/><use href="#d" x="19" y="20"/><use href="#d" x="20" y="20"/>
<use href="#d" x="7" y="21"/><use href="#d" x="10" y="21"/><use href="#d" x="11" y="21"/><use href="#d" x="12" y="21"/><use href="#d" x="17" y="21"/><use href="#d" x="19" y="21"/><use href="#d" x="20" y="21"/><use href="#d" x="21" y="21"/><use href="#d" x="23" y="21"/>
<use href="#d" x="0" y="22"/><use href="#d" x="1" y="22"/><use href="#d" x="2" y="22"/><use href="#d" x="3" y="22"/><use href="#d" x="4" y="22"/><use href="#d" x="8" y="22"/><use href="#d" x="9" y="22"/><use href="#d" x="13" y="22"/><use href="#d" x="16" y="22"/><use href="#d" x="18" y="22"/><use href="#d" x="20" y="22"/>
<use href="#d" x="4" y="23"/><use href="#d" x="9" y="23"/><use href="#d" x="10" y="23"/><use href="#d" x="12" y="23"/><use href="#d" x="13" y="23"/><use href="#d" x="15" y="23"/><use href="#d" x="17" y="23"/><use href="#d" x="18" y="23"/><use href="#d" x="21" y="23"/>
</g>
</g>
<text class="lbl" x="848" y="643">Network #3</text>
</g>

<g id="network4">
<g transform="translate(569.8 696.7) scale(24.1)">
<g id="n4-fibers"><use href="#v24"/></g>
<g id="n4-nodes">
<use href="#d" x="2" y="0"/><use href="#d" x="5" y="0"/><use href="#d" x="7" y="0"/><use href="#d" x="8" y="0"/><use href="#d" x="12" y="0"/><use href="#d" x="15" y="0"/><use href="#d" x="17" y="0"/><use href="#d" x="18" y="0"/><use href="#d" x="22" y="0"/>
<use href="#d" x="0" y="1"/><use href="#d" x="2" y="1"/><use href="#d" x="3" y="1"/><use href="#d" x="4" y="1"/><use href="#d" x="5" y="1"/><use href="#d" x="12" y="1"/><use href="#d" x="13" y="1"/><use href="#d" x="16" y="1"/><use href="#d" x="17" y="1"/><use href="#d" x="18" y="1"/><use href="#d" x="19" y="1"/><use href="#d" x="23" y="1"/>
<use href="#d" x="0" y="2"/><use href="#d" x="2" y="2"/><use href="#d" x="6" y="2"/><use href="#d" x="7" y="2"/><use href="#d" x="12" y="2"/><use href="#d" x="13" y="2"/><use href="#d" x="15" y="2"/><use href="#d" x="16" y="2"/><use href="#d" x="19" y="2"/><use href="#d" x="20" y="2"/><use href="#d" x="22" y="2"/><use href="#d" x="23" y="2"/>
<use href="#d" x="1" y="3"/><use href="#d" x="6" y="3"/><use href="#d" x="7" y="3"/><use href="#d" x="9" y="3"/><use href="#d" x="10" y="3"/><use href="#d" x="11" y="3"/><use href="#d" x="12" y="3"/><use href="#d" x="13" y="3"/><use href="#d" x="14" y="3"/><use href="#d" x="19" y="3"/><use href="#d" x="23" y="3"/>
<use href="#d" x="3" y="4"/><use href="#d" x="5" y="4"/><use href="#d" x="6" y="4"/><use href="#d" x="8" y="4"/><use href="#d" x="12" y="4"/><use href="#d" x="14" y="4"/><use href="#d" x="15" y="4"/><use href="#d" x="16" y="4"/><use href="#d" x="17" y="4"/><use href="#d" x="20" y="4"/><use href="#d" x="22" y="4"/>
<use href="#d" x="1" y="5"/><use href="#d" x="4" y="5"/><use href="#d" x="7" y="5"/><use href="#d" x="10" y="5"/><use href="#d" x="11" y="5"/><use href="#d" x="17" y="5"/><use href="#d" x="20" y="5"/><use href="#d" x="22" y="5"/><use href="#d" x="23" y="5"/>
<use href="#d" x="0" y="6"/><use href="#d" x="2" y="6"/><use href="#d" x="3" y="6"/><use href="#d" x="7" y="6"/><use href="#d" x="8" y="6"/><use href="#d" x="9" y="6"/><use href="#d" x="11" y="6"/><use href="#d" x="16" y="6"/><use href="#d" x="20" y="6"/>
<use href="#d" x="0" y="7"/><use href="#d" x="2" y="7"/><use href="#d" x="6" y="7"/><use href="#d" x="9" y="7"/><use href="#d" x="10" y="7"/><use href="#d" x="14" y="7"/><use href="#d" x="16" y="7"/><use href="#d" x="17" y="7"/><use href="#d" x="18" y="7"/><use href="#d" x="19" y="7"/><use href="#d" x="21" y="7"/>
<use href="#d" x="2" y="8"/><use href="#d" x="3" y="8"/><use href="#d" x="5" y="8"/><use href="#d" x="6" y="8"/><use href="#d" x="8" y="8"/><use href="#d" x="10" y="8"/><use href="#d" x="12" y="8"/><use href="#d" x="13" y="8"/><use href="#d" x="18" y="8"/><use href="#d" x="20" y="8"/><use href="#d" x="21" y="8"/><use href="#d" x="22" y="8"/><use href="#d" x="23" y="8"/>
<use href="#d" x="0" y="9"/><use href="#d" x="1" y="9"/><use href="#d" x="2" y="9"/><use href="#d" x="7" y="9"/><use href="#d" x="9" y="9"/><use href="#d" x="13" y="9"/><use href="#d" x="15" y="9"/><use href="#d" x="17" y="9"/><use href="#d" x="18" y="9"/><use href="#d" x="19" y="9"/><use href="#d" x="20" y="9"/><use href="#d" x="21" y="9"/><use href="#d" x="22" y="9"/><use href="#d" x="23" y="9"/>
<use href="#d" x="1" y="10"/><use href="#d" x="4" y="10"/><use href="#d" x="6" y="10"/><use href="#d" x="9" y="10"/><use href="#d" x="10" y="10"/><use href="#d" x="13" y="10"/><use href="#d" x="14" y="10"/><use href="#d" x="15" y="10"/><use href="#d" x="19" y="10"/><use href="#d" x="22" y="10"/>
<use href="#d" x="0" y="11"/><use href="#d" x="2" y="11"/><use href="#d" x="4" y="11"/><use href="#d" x="5" y="11"/><use href="#d" x="6" y="11"/><use href="#d" x="8" y="11"/><use href="#d" x="10" y="11"/><use href="#d" x="11" y="11"/><use href="#d" x="12" y="11"/><use href="#d" x="14" y="11"/><use href="#d" x="16" y="11"/><use href="#d" x="20" y="11"/><use href="#d" x="23" y="11"/>
<use href="#d" x="0" y="12"/><use href="#d" x="6" y="12"/><use href="#d" x="12" y="12"/><use href="#d" x="20" y="12"/><use href="#d" x="23" y="12"/>
<use href="#d" x="1" y="13"/><use href="#d" x="3" y="13"/><use href="#d" x="4" y="13"/><use href="#d" x="5" y="13"/><use href="#d" x="7" y="13"/><use href="#d" x="8" y="13"/><use href="#d" x="9" y="13"/><use href="#d" x="10" y="13"/><use href="#d" x="13" y="13"/><use href="#d" x="15" y="13"/><use href="#d" x="17" y="13"/><use href="#d" x="18" y="13"/><use href="#d" x="22" y="13"/>
<use href="#d" x="0" y="14"/><use href="#d" x="3" y="14"/><use href="#d" x="7" y="14"/><use href="#d" x="12" y="14"/><use href="#d" x="14" y="14"/><use href="#d" x="15" y="14"/><use href="#d" x="16" y="14"/><use href="#d" x="22" y="14"/>
<use href="#d" x="4" y="15"/><use href="#d" x="5" y="15"/><use href="#d" x="6" y="15"/><use href="#d" x="7" y="15"/><use href="#d" x="10" y="15"/><use href="#d" x="11" y="15"/><use href="#d" x="13" y="15"/><use href="#d" x="18" y="15"/><use href="#d" x="19" y="15"/><use href="#d" x="21" y="15"/><use href="#d" x="22" y="15"/><use href="#d" x="23" y="15"/>
<use href="#d" x="0" y="16"/><use href="#d" x="2" y="16"/><use href="#d" x="5" y="16"/><use href="#d" x="10" y="16"/><use href="#d" x="11" y="16"/><use href="#d" x="13" y="16"/><use href="#d" x="16" y="16"/><use href="#d" x="17" y="16"/><use href="#d" x="19" y="16"/><use href="#d" x="20" y="16"/><use href="#d" x="21" y="16"/>
<use href="#d" x="0" y="17"/><use href="#d" x="1" y="17"/><use href="#d" x="2" y="17"/><use href="#d" x="5" y="17"/><use href="#d" x="10" y="17"/><use href="#d" x="14" y="17"/><use href="#d" x="15" y="17"/><use href="#d" x="16" y="17"/><use href="#d" x="17" y="17"/><use href="#d" x="20" y="17"/><use href="#d" x="23" y="17"/>
<use href="#d" x="0" y="18"/><use href="#d" x="4" y="18"/><use href="#d" x="5" y="18"/><use href="#d" x="9" y="18"/><use href="#d" x="17" y="18"/><use href="#d" x="18" y="18"/><use href="#d" x="19" y="18"/><use href="#d" x="21" y="18"/><use href="#d" x="22" y="18"/>
<use href="#d" x="1" y="19"/><use href="#d" x="4" y="19"/><use href="#d" x="5" y="19"/><use href="#d" x="6" y="19"/><use href="#d" x="7" y="19"/><use href="#d" x="9" y="19"/><use href="#d" x="15" y="19"/><use href="#d" x="17" y="19"/><use href="#d" x="19" y="19"/><use href="#d" x="20" y="19"/><use href="#d" x="21" y="19"/>
<use href="#d" x="2" y="20"/><use href="#d" x="3" y="20"/><use href="#d" x="7" y="20"/><use href="#d" x="9" y="20"/><use href="#d" x="10" y="20"/><use href="#d" x="15" y="20"/><use href="#d" x="16" y="20"/><use href="#d" x="23" y="20"/>
<use href="#d" x="0" y="21"/><use href="#d" x="2" y="21"/><use href="#d" x="3" y="21"/><use href="#d" x="6" y="21"/><use href="#d" x="8" y="21"/><use href="#d" x="11" y="21"/><use href="#d" x="14" y="21"/><use href="#d" x="15" y="21"/><use href="#d" x="16" y="21"/><use href="#d" x="19" y="21"/><use href="#d" x="20" y="21"/><use href="#d" x="22" y="21"/><use href="#d" x="23" y="21"/>
<use href="#d" x="2" y="22"/><use href="#d" x="6" y="22"/><use href="#d" x="13" y="22"/><use href="#d" x="14" y="22"/><use href="#d" x="15" y="22"/><use href="#d" x="16" y="22"/><use href="#d" x="18" y="22"/>
<use href="#d" x="0" y="23"/><use href="#d" x="2" y="23"/><use href="#d" x="7" y="23"/><use href="#d" x="8" y="23"/><use href="#d" x="9" y="23"/><use href="#d" x="11" y="23"/><use href="#d" x="13" y="23"/><use href="#d" x="14" y="23"/><use href="#d" x="15" y="23"/><use href="#d" x="16" y="23"/><use href="#d" x="17" y="23"/><use href="#d" x="18" y="23"/><use href="#d" x="22" y="23"/><use href="#d" x="23" y="23"/>
</g>
</g>
<text class="lbl" x="849" y="1306">Network #4</text>
</g>
</svg>
